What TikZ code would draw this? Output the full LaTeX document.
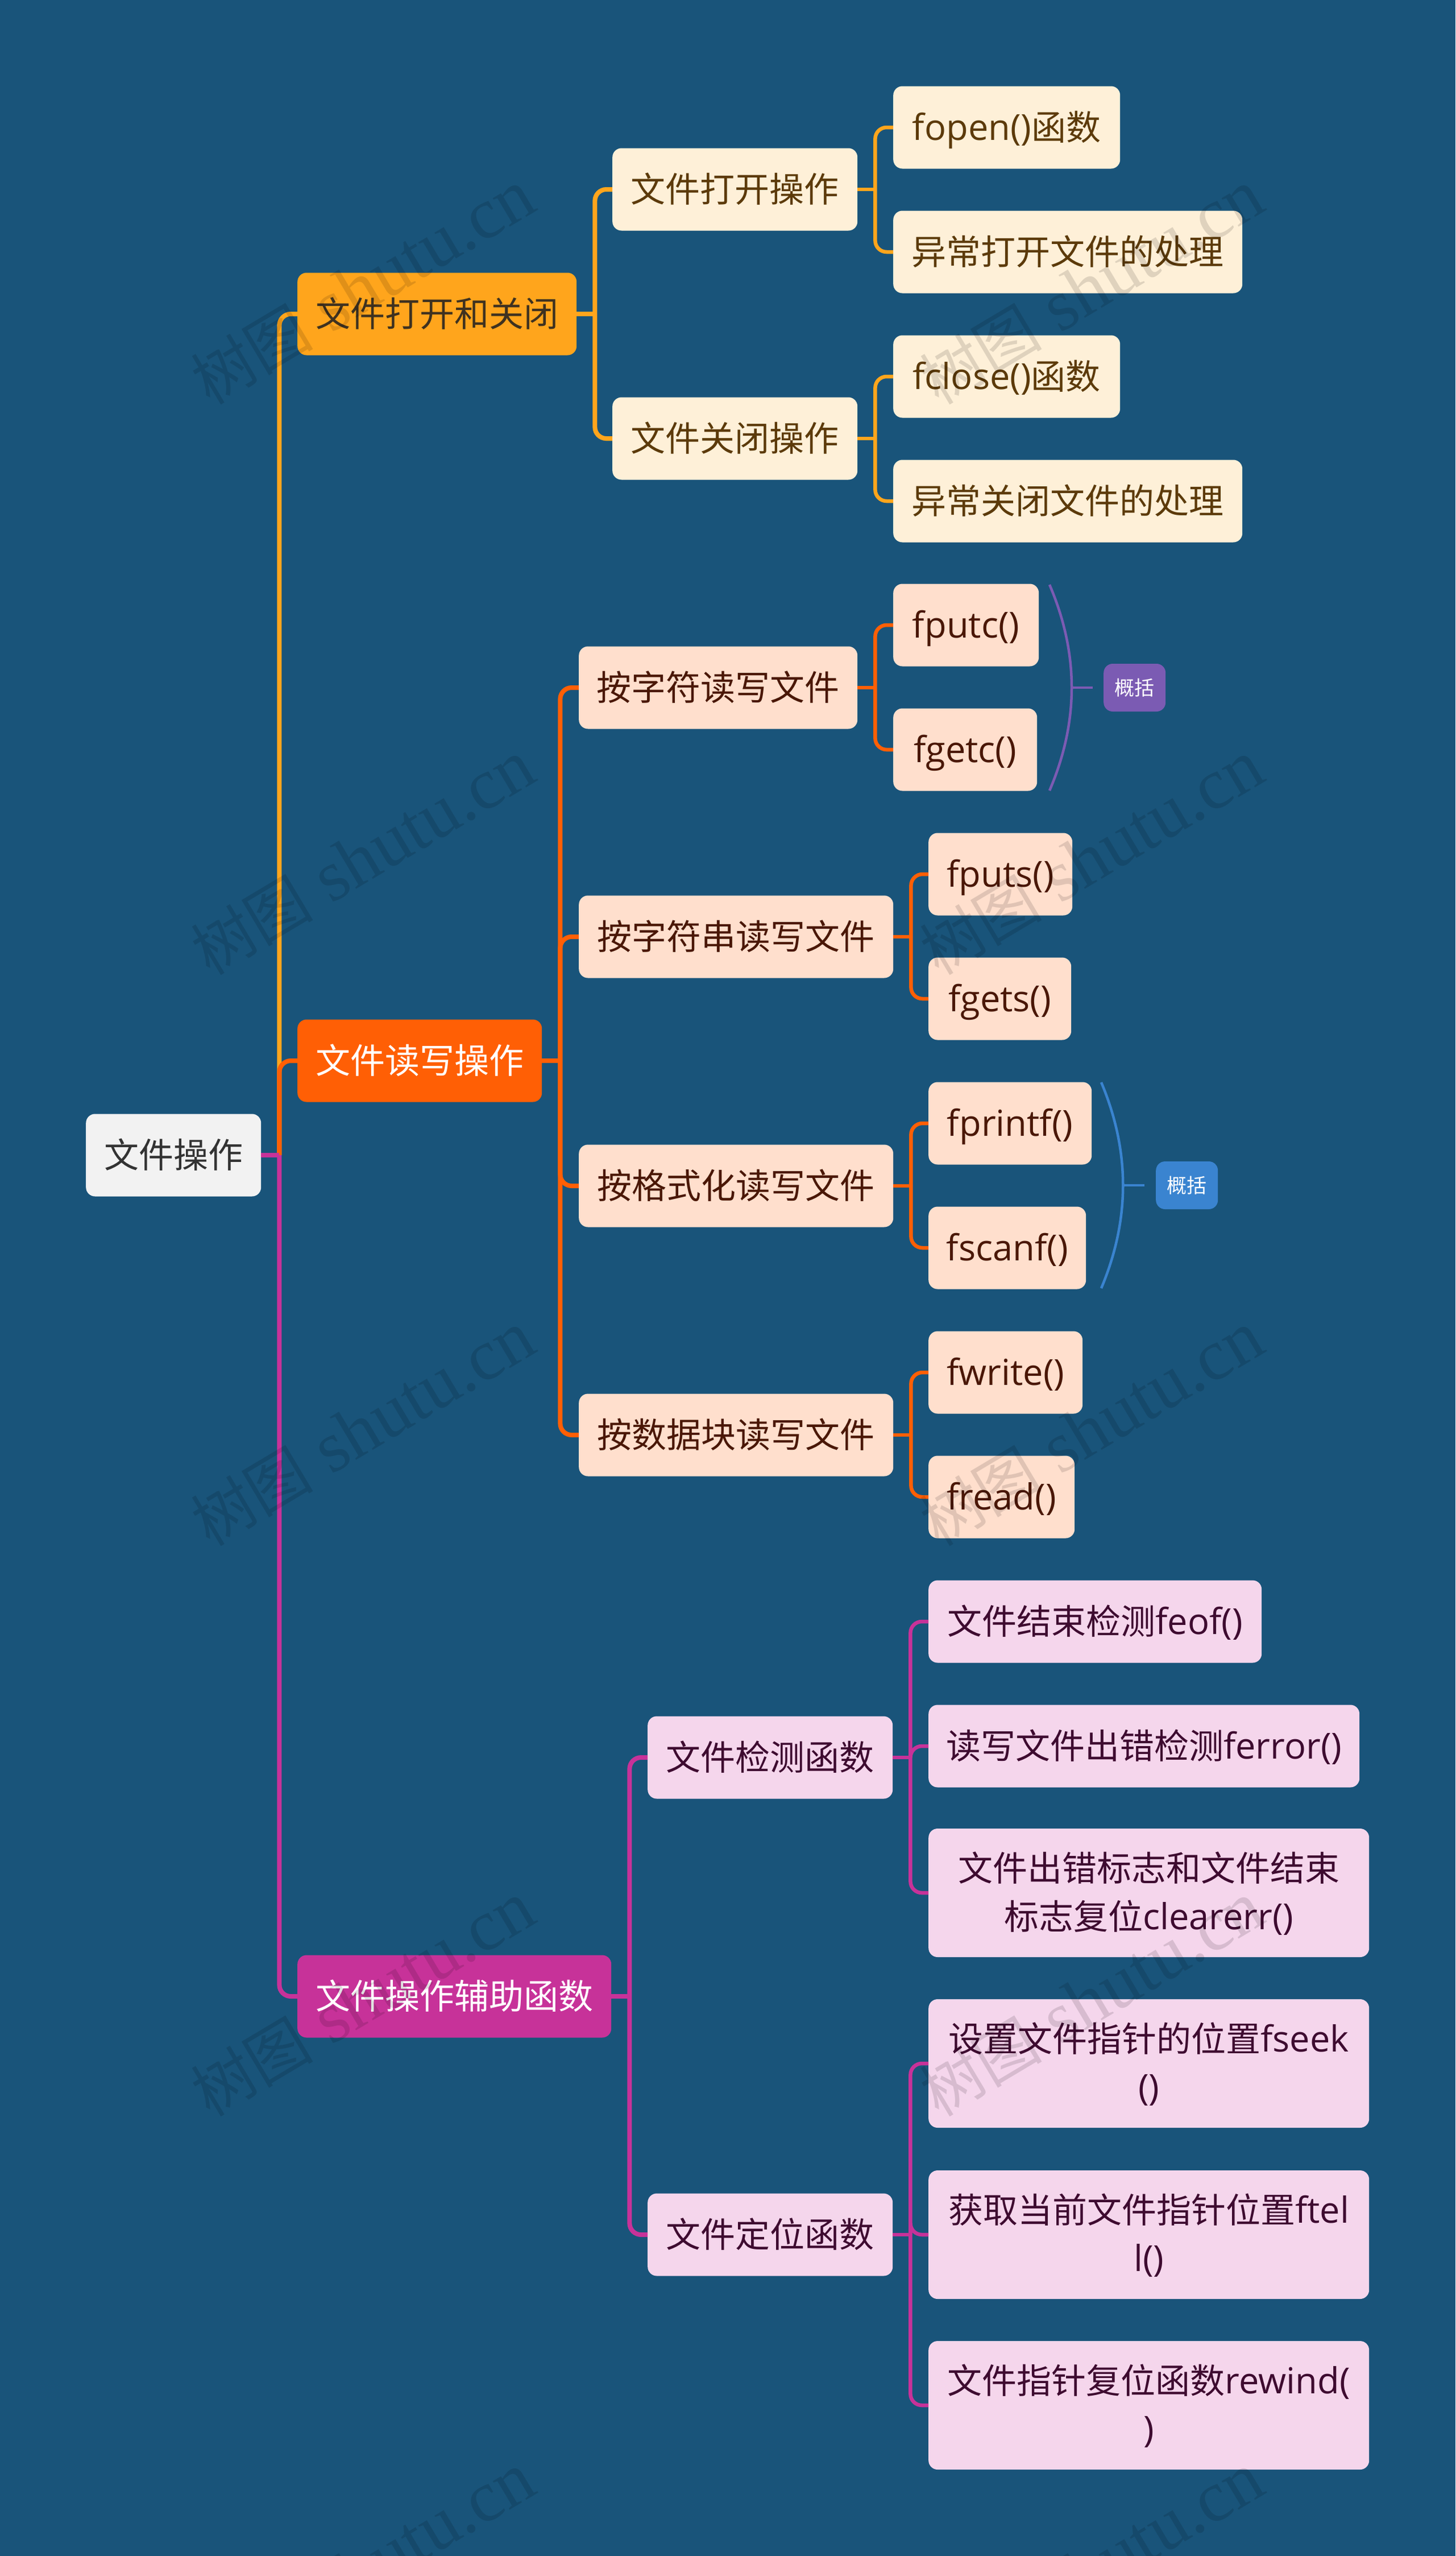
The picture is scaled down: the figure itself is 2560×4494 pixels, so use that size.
\documentclass[tikz,border=0pt]{standalone}
\usepackage{fontspec}
\setmainfont[Scale=1.035]{Open Sans}
\newfontfamily\cjk{Noto Sans CJK SC}
\newfontfamily\wmlatin{Liberation Serif}
\usetikzlibrary{calc}
\definecolor{bgc}{HTML}{19547A}
\definecolor{rootf}{HTML}{F2F2F2}
\definecolor{roott}{HTML}{333333}
\definecolor{ac}{HTML}{FFA51C}
\definecolor{at}{HTML}{3F3220}
\definecolor{ach}{HTML}{FEF0D8}
\definecolor{acht}{HTML}{5C3A0A}
\definecolor{bc}{HTML}{FF5F05}
\definecolor{bch}{HTML}{FFDFCD}
\definecolor{bcht}{HTML}{4A1706}
\definecolor{cc}{HTML}{C73299}
\definecolor{cch}{HTML}{F5D6EC}
\definecolor{ccht}{HTML}{3E0B30}
\definecolor{sumP}{HTML}{7B5BB3}
\definecolor{sumB}{HTML}{3A84D0}
\newcommand\Z[1]{{\cjk #1}}
\newcommand\st{\rule[-20pt]{0pt}{84pt}}
% name, style, x0, x1, yc, text
\newcommand\nd[6]{\node[#2,anchor=west,minimum width=#4pt-#3pt] (#1) at (#3,#5) {\st #6};}
\newcommand\wmtext{{\fontsize{108}{110}\selectfont\cjk 树图}\hspace{32pt}{\fontsize{127}{130}\selectfont\wmlatin shutu.cn}}
\tikzset{
  x=1pt,y=-1pt,
  box/.style={rectangle,rounded corners=16pt,inner sep=0pt,minimum height=145pt,align=center,
     font=\fontsize{61}{81}\selectfont},
  two/.style={minimum height=226pt},
  rootb/.style={box,fill=rootf,text=roott},
  abox/.style={box,fill=ac,text=at},
  achb/.style={box,fill=ach,text=acht},
  bbox/.style={box,fill=bc,text=white},
  bchb/.style={box,fill=bch,text=bcht},
  cbox/.style={box,fill=cc,text=white},
  cchb/.style={box,fill=cch,text=ccht},
  sumb/.style={rectangle,rounded corners=16pt,inner sep=0pt,minimum height=84pt,text=white,
     font=\fontsize{35}{40}\selectfont\cjk},
  lk/.style={line width=8pt,rounded corners=20pt},
  lkt/.style={line width=6.5pt,rounded corners=20pt},
  sumln/.style={line width=4.5pt},
  wm/.style={rotate=30.8,anchor=base,inner sep=0pt,text=black,text opacity=0.12}
}
\begin{document}
\begin{tikzpicture}
\useasboundingbox (0,0) rectangle (2560,4494);
\fill[bgc] (0,0) rectangle (2560,4494);
% nodes
\nd{root}{rootb}{151}{459}{2031}{\Z{文件操作}}
\nd{A}{abox}{523}{1014}{552}{\Z{文件打开和关闭}}
\nd{B}{bbox}{523}{953}{1865}{\Z{文件读写操作}}
\nd{C}{cbox}{523}{1075}{3510}{\Z{文件操作辅助函数}}
\nd{A1}{achb}{1077}{1508}{333}{\Z{文件打开操作}}
\nd{A2}{achb}{1077}{1508}{771}{\Z{文件关闭操作}}
\nd{a1}{achb}{1571}{1970}{224}{fopen()\Z{函数}}
\nd{a2}{achb}{1571}{2185}{443}{\Z{异常打开文件的处理}}
\nd{a3}{achb}{1571}{1970}{662}{fclose()\Z{函数}}
\nd{a4}{achb}{1571}{2185}{881}{\Z{异常关闭文件的处理}}
\nd{B1}{bchb}{1018}{1508}{1209}{\Z{按字符读写文件}}
\nd{B2}{bchb}{1018}{1571}{1647}{\Z{按字符串读写文件}}
\nd{B3}{bchb}{1018}{1571}{2085}{\Z{按格式化读写文件}}
\nd{B4}{bchb}{1018}{1571}{2523}{\Z{按数据块读写文件}}
\nd{b1}{bchb}{1571}{1827}{1099}{fputc()}
\nd{b2}{bchb}{1571}{1824}{1318}{fgetc()}
\nd{b3}{bchb}{1633}{1886}{1537}{fputs()}
\nd{b4}{bchb}{1633}{1884}{1756}{fgets()}
\nd{b5}{bchb}{1633}{1920}{1975}{fprintf()}
\nd{b6}{bchb}{1633}{1910}{2194}{fscanf()}
\nd{b7}{bchb}{1633}{1904}{2413}{fwrite()}
\nd{b8}{bchb}{1633}{1890}{2632}{fread()}
\nd{C1}{cchb}{1139}{1570}{3090}{\Z{文件检测函数}}
\nd{C2}{cchb}{1139}{1570}{3929}{\Z{文件定位函数}}
\nd{c1}{cchb}{1633}{2219}{2851}{\Z{文件结束检测}feof()}
\nd{c2}{cchb}{1633}{2391}{3070}{\Z{读写文件出错检测}ferror()}
\nd{c3}{cchb,two}{1633}{2408}{3328}{\Z{文件出错标志和文件结束}\\\Z{标志复位}clearerr()\st}
\nd{c4}{cchb,two}{1633}{2408}{3628}{\Z{设置文件指针的位置}fseek\\()\st}
\nd{c5}{cchb,two}{1633}{2408}{3929}{\Z{获取当前文件指针位置}ftel\\l()\st}
\nd{c6}{cchb,two}{1633}{2408}{4229}{\Z{文件指针复位函数}rewind(\\)\st}
\node[sumb,fill=sumP,anchor=west,minimum width=109pt] (s1) at (1941,1209) {概括};
\node[sumb,fill=sumB,anchor=west,minimum width=109pt] (s2) at (2033,2084) {概括};
% junctions
\coordinate (Rj) at ($(root.east)+(32,0)$);
\coordinate (Aj) at ($(A.east)+(32,0)$);
\coordinate (Bj) at ($(B.east)+(32,0)$);
\coordinate (Cj) at ($(C.east)+(32,0)$);
\coordinate (A1j) at ($(A1.east)+(31,0)$);
\coordinate (A2j) at ($(A2.east)+(31,0)$);
\coordinate (B1j) at ($(B1.east)+(31,0)$);
\coordinate (B2j) at ($(B2.east)+(31,0)$);
\coordinate (B3j) at ($(B3.east)+(31,0)$);
\coordinate (B4j) at ($(B4.east)+(31,0)$);
\coordinate (C1j) at ($(C1.east)+(31,0)$);
\coordinate (C2j) at ($(C2.east)+(31,0)$);
% connectors: first level
\draw[lk,ac] (Rj) |- (A.west);
\draw[lk,bc] (Rj) |- (B.west);
\draw[lk,cc] (Rj) |- (C.west);
\draw[line width=8pt,cc] (root.east) -- (Rj);
% second level
\draw[lk,ac] (A.east) -- (Aj);
\draw[lk,ac] (Aj) |- (A1.west);
\draw[lk,ac] (Aj) |- (A2.west);
\draw[lk,bc] (B.east) -- (Bj);
\draw[lk,bc] (Bj) |- (B1.west);
\draw[lk,bc] (Bj) |- (B2.west);
\draw[lk,bc] (Bj) |- (B3.west);
\draw[lk,bc] (Bj) |- (B4.west);
\draw[lk,cc] (C.east) -- (Cj);
\draw[lk,cc] (Cj) |- (C1.west);
\draw[lk,cc] (Cj) |- (C2.west);
% third level
\draw[lkt,ac] (A1.east) -- (A1j);
\draw[lkt,ac] (A1j) |- (a1.west);
\draw[lkt,ac] (A1j) |- (a2.west);
\draw[lkt,ac] (A2.east) -- (A2j);
\draw[lkt,ac] (A2j) |- (a3.west);
\draw[lkt,ac] (A2j) |- (a4.west);
\draw[lkt,bc] (B1.east) -- (B1j);
\draw[lkt,bc] (B1j) |- (b1.west);
\draw[lkt,bc] (B1j) |- (b2.west);
\draw[lkt,bc] (B2.east) -- (B2j);
\draw[lkt,bc] (B2j) |- (b3.west);
\draw[lkt,bc] (B2j) |- (b4.west);
\draw[lkt,bc] (B3.east) -- (B3j);
\draw[lkt,bc] (B3j) |- (b5.west);
\draw[lkt,bc] (B3j) |- (b6.west);
\draw[lkt,bc] (B4.east) -- (B4j);
\draw[lkt,bc] (B4j) |- (b7.west);
\draw[lkt,bc] (B4j) |- (b8.west);
\draw[lkt,cc] (C1.east) -- (C1j);
\draw[lkt,cc] (C1j) |- (c1.west);
\draw[lkt,cc] (C1j) |- (c2.west);
\draw[lkt,cc] (C1j) |- (c3.west);
\draw[lkt,cc] (C2.east) -- (C2j);
\draw[lkt,cc] (C2j) |- (c4.west);
\draw[lkt,cc] (C2j) |- (c5.west);
\draw[lkt,cc] (C2j) |- (c6.west);
% summary brackets
\coordinate (p1t) at (1846,1028);
\coordinate (p1b) at (1846,1390);
\coordinate (p1m) at (1885,1209);
\draw[sumln,sumP] (p1t) .. controls (1898,1149) and (1898,1269) .. (p1b);
\draw[sumln,sumP] (p1m) -- ($(s1.west)+(-19,0)$);
\coordinate (p2t) at (1937,1903);
\coordinate (p2b) at (1937,2265);
\coordinate (p2m) at (1975,2084);
\draw[sumln,sumB] (p2t) .. controls (1988,2024) and (1988,2144) .. (p2b);
\draw[sumln,sumB] (p2m) -- ($(s2.west)+(-20,0)$);
% watermark
\foreach \wy [count=\i] in {540,1544,3047.5}{}
\foreach \wy [count=\i] in {540.5,1544,2547.5,3551,4554.5}{
  \node[wm] (wl\i) at (659,\wy) {\wmtext};
  \node[wm] (wr\i) at (1941,\wy) {\wmtext};
}
\end{tikzpicture}
\end{document}
